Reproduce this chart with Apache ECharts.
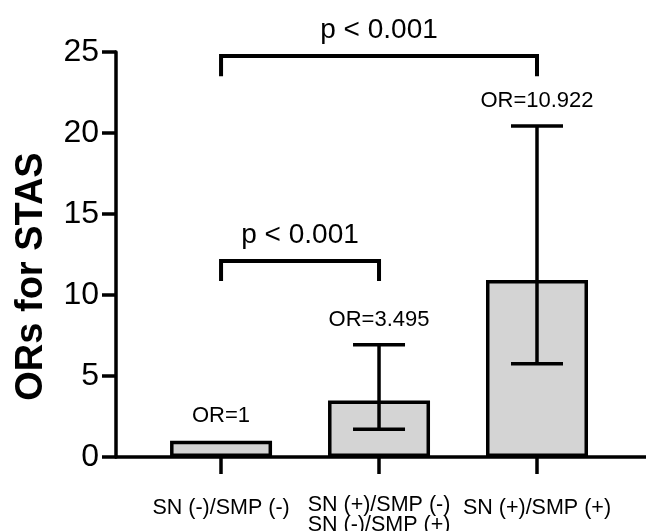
<!DOCTYPE html>
<html>
<head>
<meta charset="utf-8">
<script src="https://cdn.jsdelivr.net/npm/echarts@6/dist/echarts.min.js"></script>
<style>
  html, body { margin: 0; padding: 0; background: #fff; }
  #chart { width: 646px; height: 531px; }
</style>
</head>
<body>
<div id="chart"></div>
<script>
// 数据
var categories = ['SN (-)/SMP (-)', 'SN (+)/SMP (-)\nSN (-)/SMP (+)', 'SN (+)/SMP (+)'];
var catPos = [1, 2, 3];
var orValues = [1, 3.495, 10.922];
var ciLow = [null, 1.71, 5.76];
var ciHigh = [null, 6.93, 20.43];
var orLabels = ['OR=1', 'OR=3.495', 'OR=10.922'];
var yTicks = [0, 5, 10, 15, 20, 25];
// 显著性括号: [起点, 终点, 横线高度, 竖线下端]
var brackets = [[1, 3, 24.75, 23.5], [1, 2, 12.1, 10.86]];
var bracketText = ['p < 0.001', 'p < 0.001'];

var font = 'Liberation Sans';
var myChart = echarts.init(document.getElementById('chart'));

myChart.setOption({
  animation: false,
  grid: { left: 116, right: 0, top: 52, bottom: 74, outerBoundsMode: 'none', containLabel: false },
  xAxis: {
    type: 'value',
    min: 0.335,
    max: 3.69,
    axisLine: { show: true, lineStyle: { color: '#000', width: 3.5 } },
    axisTick: {
      show: true,
      customValues: catPos,
      length: 17,
      lineStyle: { color: '#000', width: 3.5 }
    },
    axisLabel: {
      customValues: catPos,
      margin: 38,
      color: '#000',
      fontFamily: font,
      fontSize: 21.5,
      lineHeight: 20,
      formatter: function (v) {
        var s = categories[Math.round(v) - 1];
        if (s.indexOf('\n') < 0) return '{s|' + s + '}';
        return s;
      },
      rich: {
        s: { fontFamily: font, fontSize: 21.5, color: '#000', padding: [6, 0, 0, 0] }
      }
    },
    splitLine: { show: false }
  },
  yAxis: {
    type: 'value',
    min: 0,
    max: 25,
    interval: 5,
    name: 'ORs for STAS',
    nameLocation: 'middle',
    nameGap: 65,
    nameTextStyle: {
      color: '#000', fontFamily: font, fontSize: 38, fontWeight: 'bold',
      padding: [0, 44, 0, 0]
    },
    axisLine: { show: true, lineStyle: { color: '#000', width: 3.5 } },
    axisTick: { show: true, length: 14, lineStyle: { color: '#000', width: 3.5 } },
    axisLabel: {
      margin: 17,
      color: '#000',
      fontFamily: font,
      fontSize: 32,
      formatter: function (v) { return yTicks.indexOf(v) >= 0 ? String(v) : ''; }
    },
    splitLine: { show: false }
  },
  series: [
    {
      type: 'bar',
      barWidth: 102,
      data: catPos.map(function (x, i) { return [x, orValues[i]]; }),
      itemStyle: { color: '#d4d4d4', borderColor: '#000', borderWidth: 3.5 },
      z: 2
    },
    {
      // 误差线 + OR 标签
      type: 'custom',
      data: catPos.map(function (x, i) {
        return [x, ciLow[i] == null ? orValues[i] : ciLow[i], ciHigh[i] == null ? orValues[i] : ciHigh[i], i];
      }),
      renderItem: function (params, api) {
        var i = api.value(3);
        var lo = api.coord([api.value(0), api.value(1)]);
        var hi = api.coord([api.value(0), api.value(2)]);
        var cap = 26;
        var st = { stroke: '#000', lineWidth: 3.5, fill: null };
        var children = [];
        if (ciHigh[i] != null) {
          children.push(
            { type: 'line', shape: { x1: hi[0], y1: hi[1], x2: lo[0], y2: lo[1] }, style: st },
            { type: 'line', shape: { x1: hi[0] - cap, y1: hi[1], x2: hi[0] + cap, y2: hi[1] }, style: st },
            { type: 'line', shape: { x1: lo[0] - cap, y1: lo[1], x2: lo[0] + cap, y2: lo[1] }, style: st }
          );
        }
        children.push({
          type: 'text',
          style: {
            x: hi[0], y: hi[1] - 25,
            text: orLabels[i],
            fill: '#000',
            font: '22px "' + font + '"',
            align: 'center',
            verticalAlign: 'middle'
          }
        });
        return { type: 'group', children: children };
      },
      z: 3
    },
    {
      // 显著性括号
      type: 'custom',
      data: brackets.map(function (b, i) { return b.concat([i]); }),
      renderItem: function (params, api) {
        var a = api.coord([api.value(0), api.value(3)]);
        var b = api.coord([api.value(0), api.value(2)]);
        var c = api.coord([api.value(1), api.value(2)]);
        var d = api.coord([api.value(1), api.value(3)]);
        return {
          type: 'group',
          children: [
            {
              type: 'polyline',
              shape: { points: [a, b, c, d] },
              style: { stroke: '#000', lineWidth: 4, fill: null }
            },
            {
              type: 'text',
              style: {
                x: (b[0] + c[0]) / 2, y: b[1] - 26,
                text: bracketText[api.value(4)],
                fill: '#000',
                font: '28px "' + font + '"',
                align: 'center',
                verticalAlign: 'middle'
              }
            }
          ]
        };
      },
      z: 3
    }
  ]
});

window.onresize = function () {
  myChart.resize();
};
</script>
</body>
</html>
